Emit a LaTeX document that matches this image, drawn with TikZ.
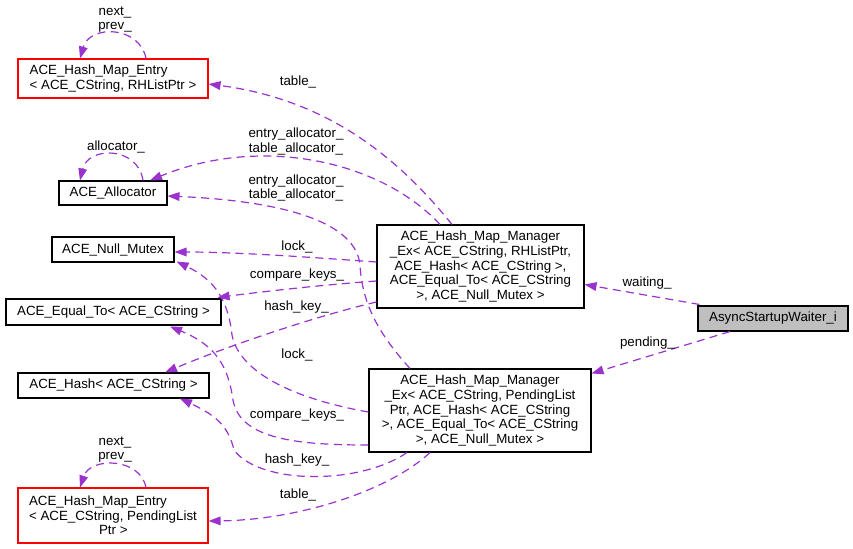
\documentclass[tikz,border=0pt]{standalone}
\usepackage{fontspec}
\setmainfont{Liberation Sans}
\usetikzlibrary{arrows.meta}
\definecolor{orchid}{HTML}{9A32CD}
\definecolor{grey75}{HTML}{BFBFBF}
\tikzset{
  cls/.style={draw=black, line width=0.8pt, inner sep=0pt, align=center, font=\fontsize{10}{11}\selectfont},
  rel/.style={draw=orchid, line width=0.9pt, dash pattern=on 6pt off 4pt, -{Triangle[length=9pt,width=6.5pt]}},
  lbl/.style={inner sep=0pt, align=center, font=\fontsize{10}{11}\selectfont},
}
\begin{document}
\begin{tikzpicture}[x=0.75pt,y=-0.75pt]
\useasboundingbox (0,0) rectangle (853,549);
\node[cls, draw=red, align=left, minimum width=142.5pt, minimum height=29.25pt] (eRH) at (113,78.5) {ACE\_Hash\_Map\_Entry\\< ACE\_CString, RHListPtr >};
\node[cls, minimum width=81pt, minimum height=18pt] (alloc) at (113,193) {ACE\_Allocator};
\node[cls, minimum width=91.5pt, minimum height=18.75pt] (mutex) at (113,249.5) {ACE\_Null\_Mutex};
\node[cls, minimum width=161.25pt, minimum height=19.5pt] (eq) at (113.5,312) {ACE\_Equal\_To< ACE\_CString >};
\node[cls, minimum width=143.25pt, minimum height=18.75pt] (hash) at (113.5,385.5) {ACE\_Hash< ACE\_CString >};
\node[cls, draw=red, align=left, minimum width=142.5pt, minimum height=41.25pt] (ePL) at (113,515.5) {ACE\_Hash\_Map\_Entry\\< ACE\_CString, PendingList\\\hspace*{52.5pt}Ptr >};
\node[cls, minimum width=155.25pt, minimum height=62.25pt] (mRH) at (480.5,266.5) {ACE\_Hash\_Map\_Manager\\\_Ex< ACE\_CString, RHListPtr,\\ACE\_Hash< ACE\_CString >,\\ACE\_Equal\_To< ACE\_CString\\>, ACE\_Null\_Mutex >};
\node[cls, minimum width=166.5pt, minimum height=62.25pt] (mPL) at (480,410.5) {ACE\_Hash\_Map\_Manager\\\_Ex< ACE\_CString, PendingList\\Ptr, ACE\_Hash< ACE\_CString\\>, ACE\_Equal\_To< ACE\_CString\\>, ACE\_Null\_Mutex >};
\node[cls, fill=grey75, minimum width=112.5pt, minimum height=18.75pt] (wt) at (773,318.5) {AsyncStartupWaiter\_i};

\draw[rel] ([shift={(2,-1)}]wt.north west) -- ([shift={(0,18)}]mRH.east);
\draw[rel] ([shift={(-43,0)}]wt.south) -- ([shift={(0,5)}]mPL.north east);
\draw[rel] ([shift={(-28.5,0)}]mRH.north) .. controls (400,160) and (330,100) .. ([shift={(0,5.5)}]eRH.east);
\draw[rel] ([shift={(-40.5,0)}]mRH.north) .. controls (380,160) and (260,135) .. ([shift={(37,0)}]alloc.north);
\draw[rel] ([shift={(-70,0)}]mPL.north) .. controls (375,330) and (362,300) .. (360,265) .. controls (355,215) and (260,200) .. ([shift={(0,3)}]alloc.east);
\draw[rel] ([shift={(0,-4.5)}]mRH.west) .. controls (320,258) and (240,252) .. ([shift={(0,2.5)}]mutex.east);
\draw[rel] ([shift={(0,14.5)}]mRH.west) .. controls (320,285) and (260,292) .. ([shift={(-4,-1)}]eq.north east);
\draw[rel] ([shift={(0,35.5)}]mRH.west) .. controls (320,315) and (230,345) .. ([shift={(51.5,0)}]hash.north);
\draw[rel] ([shift={(0,1.5)}]mPL.west) .. controls (300,400) and (240,375) .. (232,335) .. controls (228,300) and (215,280) .. ([shift={(2,-1)}]mutex.south east);
\draw[rel] ([shift={(0,34.5)}]mPL.west) .. controls (300,445) and (240,440) .. (233,400) .. controls (228,365) and (215,345) .. ([shift={(56.5,1)}]eq.south);
\draw[rel] ([shift={(-73,0)}]mPL.south) .. controls (360,485) and (260,485) .. (234,450) .. controls (228,425) and (215,415) .. ([shift={(66.5,0)}]hash.south);
\draw[rel] ([shift={(-50,0)}]mPL.south) .. controls (390,490) and (300,520) .. ([shift={(0,5.5)}]ePL.east);
\draw[rel] ([shift={(33,0)}]eRH.north) .. controls (140,26) and (90,24) .. ([shift={(-33,0)}]eRH.north);
\draw[rel] ([shift={(30,0)}]alloc.north) .. controls (138,146) and (88,146) .. ([shift={(-33,0)}]alloc.north);
\draw[rel] ([shift={(33,0)}]ePL.north) .. controls (140,457) and (90,457) .. ([shift={(-33,0)}]ePL.north);

\node[lbl] (lwait) at (647,283) {waiting\_};
\node[lbl] (lpend) at (647.5,343) {pending\_};
\node[lbl] (ltabRH) at (298,82) {table\_};
\node[lbl] (lallocRH) at (296,141.5) {entry\_allocator\_\\table\_allocator\_};
\node[lbl] (lallocPL) at (296,188) {entry\_allocator\_\\table\_allocator\_};
\node[lbl] (llockRH) at (297,247) {lock\_};
\node[lbl] (lcmpRH) at (297,275) {compare\_keys\_};
\node[lbl] (lhashRH) at (296.5,307) {hash\_key\_};
\node[lbl] (llockPL) at (297,355) {lock\_};
\node[lbl] (lcmpPL) at (297,415) {compare\_keys\_};
\node[lbl] (lhashPL) at (297,460) {hash\_key\_};
\node[lbl] (ltabPL) at (298,495) {table\_};
\node[lbl] (lselfRH) at (115,19.5) {next\_\\prev\_};
\node[lbl] (lselfA) at (116,147) {allocator\_};
\node[lbl] (lselfPL) at (115,449.5) {next\_\\prev\_};
\end{tikzpicture}
\end{document}
